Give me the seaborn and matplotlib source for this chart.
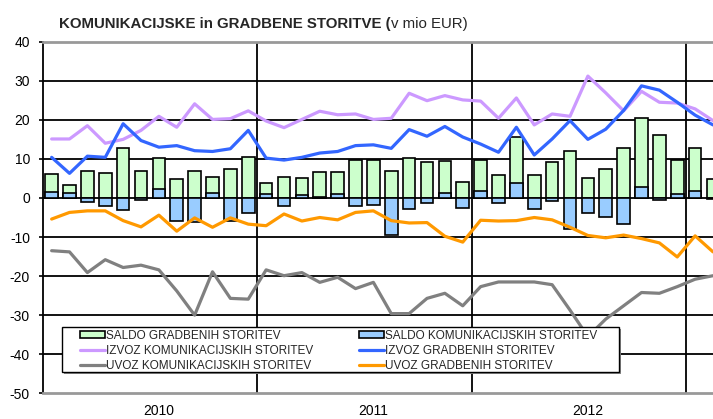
import matplotlib.pyplot as plt
import numpy as np
import pandas as pd
import seaborn as sns
from matplotlib.patches import Rectangle

# monthly values, Jan 2010 - Feb 2013 (mio EUR)
months = pd.period_range("2010-01", "2013-02", freq="M").astype(str)
year_labels = ["2010", "2011", "2012"]
y_ticks = list(range(-50, 41, 10))

saldo_grad = [6.2, 3.4, 7.0, 6.5, 12.8, 6.8, 10.3, 4.9, 6.8, 5.3, 7.4, 10.6,
              3.9, 5.3, 5.1, 6.7, 6.7, 9.8, 9.6, 6.8, 10.3, 9.1, 9.5, 4.2,
              9.8, 5.9, 15.6, 6.0, 9.1, 12.0, 5.1, 7.3, 12.9, 20.5, 16.0, 9.8,
              12.7, 4.9]
saldo_kom = [1.4, 1.3, -1.1, -2.0, -3.1, -0.4, 2.3, -5.8, -6.1, 1.2, -5.8, -3.9,
             1.0, -2.1, 0.8, 0.2, 0.9, -2.1, -1.7, -9.4, -2.8, -1.2, 1.3, -2.6,
             1.7, -1.4, 3.8, -2.8, -0.9, -7.9, -3.8, -5.0, -6.7, 2.7, -0.4, 1.0,
             1.9, -0.3]
izvoz_kom = [15.1, 15.1, 18.5, 14.0, 15.0, 17.3, 20.9, 18.1, 24.1, 20.1, 20.3, 22.3,
             19.7, 18.0, 20.1, 22.2, 21.3, 21.5, 20.1, 20.4, 26.8, 24.9, 26.2, 25.1,
             24.8, 20.4, 25.6, 18.7, 21.5, 20.9, 31.2, 26.9, 22.3, 27.3, 24.5, 24.3,
             22.8, 19.8]
izvoz_grad = [10.4, 6.3, 10.7, 10.4, 19.0, 14.7, 13.0, 13.4, 12.1, 11.9, 12.6, 17.3,
              10.2, 9.7, 10.4, 11.5, 11.9, 13.4, 13.6, 12.7, 17.5, 15.8, 18.3, 15.6,
              13.8, 11.7, 18.1, 11.0, 15.1, 19.8, 15.0, 17.6, 22.4, 28.7, 27.6, 24.5,
              21.2, 18.7]
uvoz_kom = [-13.5, -13.8, -19.1, -15.8, -17.8, -17.2, -18.4, -23.8, -30.0, -18.9, -25.7, -25.9,
            -18.4, -19.9, -19.1, -21.6, -20.3, -23.2, -21.6, -29.6, -29.6, -25.7, -24.4, -27.6,
            -22.7, -21.5, -21.5, -21.5, -22.2, -28.7, -35.5, -31.0, -27.6, -24.2, -24.4, -22.7,
            -20.8, -19.9]
uvoz_grad = [-5.4, -3.7, -3.3, -3.3, -5.8, -7.4, -4.4, -8.5, -5.1, -7.5, -5.1, -6.7,
             -7.1, -4.1, -5.9, -5.0, -5.6, -3.7, -3.3, -5.8, -6.4, -6.3, -9.8, -11.3,
             -5.7, -5.9, -5.8, -5.0, -5.6, -7.5, -9.6, -10.2, -9.5, -10.4, -11.5, -15.1,
             -9.7, -13.8]

df = pd.DataFrame({
    "month": months,
    "pos": np.arange(len(months)),
    "saldo_grad": saldo_grad,
    "saldo_kom": saldo_kom,
    "izvoz_kom": izvoz_kom,
    "izvoz_grad": izvoz_grad,
    "uvoz_kom": uvoz_kom,
    "uvoz_grad": uvoz_grad,
})

sns.set_theme(style="white")
plt.rcParams["font.family"] = ["Liberation Sans", "DejaVu Sans"]

W, H = 713, 419
fig = plt.figure(figsize=(W / 100, H / 100), dpi=100)
ax = fig.add_axes([42.7 / W, 1 - 393.3 / H, 1 - 42.7 / W, (393.3 - 41.7) / H])

# --- bars (overlapping, not stacked) ---
sns.barplot(data=df, x="pos", y="saldo_grad", native_scale=True, color="#CCFFCC",
            saturation=1, edgecolor="black", linewidth=1.2, width=0.71,
            errorbar=None, label="SALDO GRADBENIH STORITEV", ax=ax)
sns.barplot(data=df, x="pos", y="saldo_kom", native_scale=True, color="#99CCFF",
            saturation=1, edgecolor="black", linewidth=1.2, width=0.71,
            errorbar=None, label="SALDO KOMUNIKACIJSKIH STORITEV", ax=ax)

# --- lines ---
lines = [
    ("izvoz_kom", "#CC99FF", "IZVOZ KOMUNIKACIJSKIH STORITEV"),
    ("izvoz_grad", "#3366FF", "IZVOZ GRADBENIH STORITEV"),
    ("uvoz_kom", "#808080", "UVOZ KOMUNIKACIJSKIH STORITEV"),
    ("uvoz_grad", "#FF9900", "UVOZ GRADBENIH STORITEV"),
]
for col, colr, lab in lines:
    sns.lineplot(data=df, x="pos", y=col, color=colr, lw=2.3, label=lab, ax=ax)

# --- grid / axes ---
for v in range(-40, 40, 10):
    ax.axhline(v, color="black", lw=1.3, zorder=0.5)
for xv in [11.5, 23.5, 35.5]:
    ax.axvline(xv, color="black", lw=1.3, zorder=0.5)

ax.set_xlim(-0.5, 37.0)
ax.set_ylim(-50, 40)
ax.set_yticks(y_ticks)
ax.set_yticklabels([str(t) for t in y_ticks])
ax.set_xticks([6, 18, 30])
ax.set_xticklabels(year_labels)
ax.set_xlabel("")
ax.set_ylabel("")
ax.tick_params(axis="y", left=True, length=3.2, width=1.2, color="black",
               direction="out", labelsize=10, pad=6, labelcolor="black")
ax.tick_params(axis="x", length=0, labelsize=10, pad=8, labelcolor="black")

ax.spines["right"].set_visible(False)
ax.spines["left"].set_color("black")
ax.spines["left"].set_linewidth(1.3)
for s in ["top", "bottom"]:
    ax.spines[s].set_color("#999999")
    ax.spines[s].set_linewidth(2)

# --- legend with its own boxed frame ---
handles, labels = ax.get_legend_handles_labels()
hmap = dict(zip(labels, handles))
order = ["SALDO GRADBENIH STORITEV", "IZVOZ KOMUNIKACIJSKIH STORITEV",
         "UVOZ KOMUNIKACIJSKIH STORITEV", "SALDO KOMUNIKACIJSKIH STORITEV",
         "IZVOZ GRADBENIH STORITEV", "UVOZ GRADBENIH STORITEV"]

ax.add_patch(Rectangle((64 / W, 1 - 374 / H), (619 - 62) / W, (372 - 327) / H,
                       transform=fig.transFigure, facecolor="#888888",
                       edgecolor="none", zorder=4, clip_on=False))
ax.add_patch(Rectangle((62 / W, 1 - 372 / H), (619 - 62) / W, (372 - 327) / H,
                       transform=fig.transFigure, facecolor="white",
                       edgecolor="black", lw=1.0, zorder=4.5, clip_on=False))
leg = ax.legend([hmap[k] for k in order], order, ncol=2, loc="upper left",
                bbox_to_anchor=(80 / W, 1 - 330 / H), bbox_transform=fig.transFigure,
                frameon=False, fontsize=8.5, borderpad=0, borderaxespad=0,
                handlelength=2.1, handleheight=0.55, handletextpad=0.1,
                columnspacing=3.9, labelspacing=0.25)
leg.set_zorder(6)

# --- title (bold + normal part) ---
t = fig.text(59 / W, 1 - 28 / H, "KOMUNIKACIJSKE in GRADBENE STORITVE (",
             fontsize=10.8, fontweight="bold", ha="left", va="baseline")
ax.annotate("v mio EUR)", xy=(1, 0), xycoords=t, ha="left", va="bottom",
            fontsize=10.8, annotation_clip=False)

fig.savefig("out.png", dpi=100)
